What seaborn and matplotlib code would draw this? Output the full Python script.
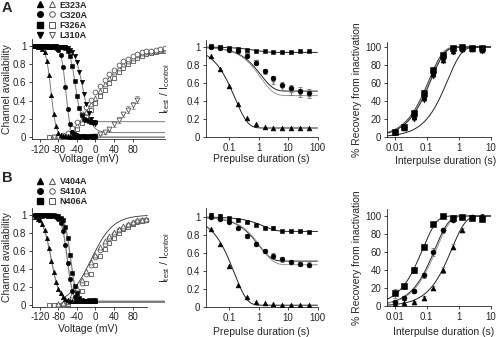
import numpy as np
import pandas as pd
import matplotlib
matplotlib.use("Agg")
import matplotlib.pyplot as plt
import seaborn as sns
from matplotlib.lines import Line2D
from matplotlib.legend_handler import HandlerTuple
from matplotlib.ticker import NullFormatter

# ---------------- data ----------------
volt_inact = [-130, -125, -120, -115, -110, -105, -100, -95, -90, -85, -80, -75, -70,
              -65, -60, -55, -50, -45, -40, -35, -30, -25, -20, -15, -10, -5, 0]

# Panel A, steady-state inactivation (filled symbols)
A_inact_E323A = [1.0, 0.99, 0.99, 0.97, 0.93, 0.84, 0.68, 0.46, 0.25, 0.12, 0.05, 0.02, 0.01,
                 0.01, 0.01, 0.0, 0.01, 0.0, 0.01, 0.0, 0.01, 0.01, 0.0, 0.01, 0.01, 0.0, 0.01]
A_inact_C320A = [1.0, 1.0, 1.0, 0.99, 1.0, 0.99, 0.99, 0.99, 0.99, 0.98, 0.96, 0.9, 0.77,
                 0.55, 0.31, 0.14, 0.06, 0.03, 0.02, 0.01, 0.01, 0.01, 0.01, 0.01, 0.01, 0.01, 0.01]
A_inact_F326A = [1.0, 1.0, 0.99, 1.0, 0.99, 1.0, 0.99, 0.99, 1.0, 0.99, 0.99, 0.99, 0.99,
                 0.98, 0.95, 0.89, 0.78, 0.62, 0.45, 0.32, 0.24, 0.2, 0.19, 0.18, 0.17, 0.17, 0.17]
A_inact_L310A = [1.0, 1.0, 1.0, 0.99, 1.0, 1.0, 0.99, 1.0, 0.99, 1.0, 0.99, 0.99, 0.99,
                 0.99, 0.98, 0.96, 0.93, 0.89, 0.82, 0.72, 0.6, 0.47, 0.36, 0.27, 0.2, 0.16, 0.14]
# Boltzmann fit parameters (V1/2, slope k, plateau)
A_fit_vhalf = [-96, -64, -44, -27]
A_fit_k = [5.5, 5.0, 6.0, 9.0]
A_fit_plateau = [0.0, 0.0, 0.17, 0.05]

# Panel A, activation (open symbols)
volt_act_A = [-90, -80, -70, -60, -50, -40, -30, -20, -10, 0, 10, 20, 30, 40, 50, 60, 70,
              80, 90, 100, 110, 120, 130, 140, 150]
A_act_C320A = [0.0, 0.0, 0.02, 0.05, 0.1, 0.17, 0.25, 0.33, 0.41, 0.49, 0.56, 0.63, 0.69, 0.74,
               0.79, 0.83, 0.86, 0.89, 0.91, 0.93, 0.94, 0.95, 0.96, 0.97, 0.98]
A_act_E323A = [0.0, 0.0, 0.01, 0.03, 0.07, 0.13, 0.2, 0.28, 0.36, 0.43, 0.51, 0.58, 0.65, 0.71,
               0.76, 0.8, 0.84, 0.87, 0.9, 0.92, 0.93, 0.94, 0.95, 0.96, 0.97]
volt_act_A_F = [-100, -90, -80, -70, -60, -50, -40, -30, -20, -10, 0, 10, 20, 30, 40, 50, 60,
                70, 80, 90, 100, 110, 120, 130, 140, 150]
A_act_F326A = [0.0, 0.0, 0.0, 0.0, 0.02, 0.05, 0.09, 0.15, 0.22, 0.3, 0.37, 0.45, 0.52, 0.59,
               0.65, 0.71, 0.76, 0.8, 0.84, 0.87, 0.89, 0.91, 0.92, 0.93, 0.94, 0.95]
volt_act_A_L = [-90, -80, -70, -60, -50, -40, -30, -20, -10, 0, 10, 20, 30, 40, 50, 60, 70, 80, 90]
A_act_L310A = [0, 0, 0, 0, 0, 0, 0, 0, 0, 0.01, 0.03, 0.06, 0.09, 0.14, 0.19, 0.25, 0.3, 0.35, 0.41]
A_act_L310A_err = [0, 0, 0, 0, 0, 0, 0, 0, 0, 0.01, 0.01, 0.02, 0.02, 0.03, 0.03, 0.03, 0.04, 0.04, 0.04]

# Panel B, steady-state inactivation
B_inact_V404A = [0.98, 0.96, 0.94, 0.9, 0.83, 0.74, 0.63, 0.49, 0.37, 0.26, 0.18, 0.13, 0.09,
                 0.07, 0.06, 0.05, 0.05, 0.04, 0.05, 0.04, 0.05, 0.04, 0.05, 0.04, 0.05, 0.04, 0.05]
B_inact_S410A = [1.0, 1.0, 0.99, 1.0, 1.0, 0.99, 1.0, 0.99, 0.99, 0.98, 0.96, 0.91, 0.82,
                 0.67, 0.47, 0.29, 0.16, 0.09, 0.06, 0.05, 0.04, 0.04, 0.05, 0.04, 0.05, 0.04, 0.05]
B_inact_N406A = [1.0, 1.0, 1.0, 0.99, 1.0, 1.0, 0.99, 1.0, 1.0, 0.99, 0.99, 0.97, 0.94,
                 0.87, 0.74, 0.56, 0.36, 0.21, 0.13, 0.08, 0.06, 0.05, 0.05, 0.06, 0.05, 0.06, 0.06]
B_fit_vhalf = [-96, -61, -54]
B_fit_k = [9.0, 6.0, 6.0]
B_fit_plateau = [0.04, 0.03, 0.04]

volt_act_B = [-80, -70, -60, -50, -40, -30, -20, -10, 0, 10, 20, 30, 40, 50, 60, 70, 80, 90, 100, 110]
B_act_S410A = [0.0, 0.01, 0.03, 0.08, 0.16, 0.25, 0.34, 0.44, 0.53, 0.61, 0.68, 0.74, 0.79, 0.83,
               0.86, 0.89, 0.91, 0.93, 0.94, 0.95]
B_act_V404A = [0.01, 0.02, 0.05, 0.11, 0.19, 0.28, 0.38, 0.48, 0.56, 0.64, 0.71, 0.77, 0.81, 0.85,
               0.88, 0.9, 0.92, 0.94, 0.95, 0.96]
volt_act_B_N = [-100, -90, -80, -70, -60, -50, -40, -30, -20, -10, 0, 10, 20, 30, 40, 50, 60, 70,
                80, 90, 100, 110]
B_act_N406A = [0, 0, 0, 0, 0.01, 0.04, 0.09, 0.16, 0.25, 0.35, 0.45, 0.54, 0.62, 0.69, 0.75, 0.8,
               0.84, 0.87, 0.9, 0.92, 0.93, 0.94]
B_act_fit = [-10, 24]  # V1/2, k

# Middle panels: development of slow inactivation
prepulse_s = [0.025, 0.05, 0.1, 0.2, 0.4, 0.8, 1.6, 3.2, 6.4, 12.8, 25.6, 51.2]
A_pre_E323A = [0.90, 0.76, 0.57, 0.37, 0.21, 0.14, 0.11, 0.10, 0.10, 0.10, 0.10, 0.10]
A_pre_C320A = [1.00, 0.99, 0.97, 0.95, 0.90, 0.82, 0.73, 0.65, 0.58, 0.54, 0.51, 0.49]
A_pre_C320A_err = [0.01, 0.01, 0.01, 0.01, 0.02, 0.02, 0.02, 0.03, 0.03, 0.04, 0.04, 0.04]
A_pre_F326A = [1.01, 1.00, 0.99, 0.98, 0.97, 0.96, 0.95, 0.94, 0.94, 0.94, 0.95, 0.95]
A_pre_L310A = [1.00, 0.99, 0.98, 0.95, 0.91, 0.83, 0.72, 0.62, 0.55, 0.51, 0.48, 0.47]
A_pre_fit_plateau = [0.10, 0.51, 0.94, 0.46]
A_pre_fit_tau = [0.16, 1.2, 0.8, 1.2]

B_pre_N406A = [1.02, 1.01, 0.99, 0.97, 0.94, 0.91, 0.88, 0.88, 0.85, 0.85, 0.84, 0.83]
B_pre_N406A_err = [0.02, 0.02, 0.01, 0.01, 0.01, 0.01, 0.01, 0.02, 0.01, 0.01, 0.01, 0.01]
B_pre_S410A = [1.00, 0.98, 0.94, 0.88, 0.79, 0.70, 0.62, 0.57, 0.53, 0.50, 0.48, 0.47]
B_pre_S410A_err = [0.01, 0.01, 0.01, 0.01, 0.02, 0.02, 0.02, 0.03, 0.03, 0.02, 0.02, 0.03]
B_pre_V404A = [0.87, 0.70, 0.46, 0.25, 0.11, 0.06, 0.04, 0.03, 0.02, 0.02, 0.02, 0.02]
B_pre_fit_plateau = [0.02, 0.51, 0.84, 0.47]
B_pre_fit_tau = [0.15, 1.0, 1.5, 1.2]

# Right panels: recovery from inactivation
interpulse_s = [0.01, 0.02, 0.04, 0.08, 0.16, 0.32, 0.64, 1.28, 2.56, 5.12]
A_rec_F326A = [5, 11, 27, 49, 74, 91, 99, 100, 99, 99]
A_rec_F326A_err = [2, 2, 3, 3, 3, 2, 2, 2, 2, 2]
A_rec_C320A = [6, 11, 25, 46, 72, 89, 98, 100, 99, 98]
A_rec_E323A = [5, 10, 22, 43, 70, 86, 96, 98, 98, 97]
A_rec_L310A = [4, 11, 20, 41, 68, 84, 94, 97, 98, 96]
A_rec_fit_tau = [0.118, 0.125, 0.135, 0.45]

B_rec_N406A = [14, 22, 40, 66, 91, 100, 98, 99, 98, 97]
B_rec_N406A_err = [5, 3, 3, 2, 2, 1, 2, 2, 2, 2]
B_rec_S410A = [5, 9, 17, 34, 60, 84, 96, 99, 99, 99]
B_rec_S410A_err = [2, 2, 2, 3, 4, 3, 2, 1, 1, 1]
B_rec_V404A = [2, 3, 5, 9, 20, 40, 66, 85, 99, 100]
B_rec_V404A_err = [1, 1, 1, 2, 2, 3, 3, 2, 2, 2]
B_rec_fit_tau = [0.075, 0.18, 0.2, 0.6]

# ---------------- style ----------------
sns.set_style("ticks")
plt.rcParams['font.family'] = ['Liberation Sans', 'DejaVu Sans']
plt.rcParams['axes.unicode_minus'] = False
plt.rcParams['axes.linewidth'] = 0.6
plt.rcParams['mathtext.fontset'] = 'custom'
plt.rcParams['mathtext.rm'] = 'Liberation Sans'

W, H = 500, 337
fig = plt.figure(figsize=(W / 100, H / 100), dpi=100)


def add_ax(l, t, r, b):
    return fig.add_axes([l / W, 1 - b / H, (r - l) / W, (b - t) / H])


FS_TICK = 7
FS_LAB = 7.5
BLACK = 'black'
OPEN_EDGE = '#555555'
FIT = '#555555'
MS = 10


def style(ax):
    sns.despine(ax=ax)
    ax.tick_params(which='major', direction='out', length=2.5, width=0.6, labelsize=FS_TICK, pad=1.5)
    ax.tick_params(which='minor', direction='out', length=1.5, width=0.5)


def filled(ax, x, y, m):
    sns.scatterplot(x=x, y=y, ax=ax, marker=m, s=MS, color=BLACK, edgecolor=BLACK,
                    linewidth=0.4, zorder=4, legend=False)


def opened(ax, x, y, m):
    sns.scatterplot(x=x, y=y, ax=ax, marker=m, s=MS + 2, color='white', edgecolor=OPEN_EDGE,
                    linewidth=0.6, zorder=3, legend=False)


def errs(ax, x, y, e, c='#666666'):
    ax.errorbar(x, y, yerr=e, fmt='none', ecolor=c, elinewidth=0.6, capsize=1.2, capthick=0.6, zorder=2.5)


def fitline(ax, x, y, c=FIT, lw=0.7):
    sns.lineplot(x=x, y=y, ax=ax, color=c, linewidth=lw, legend=False, sort=False, zorder=2)


def boltz_dec(v, vh, k, p):
    return p + (1 - p) / (1 + np.exp((v - vh) / k))


def voltage_axis(ax, right_bound):
    ax.set_xlim(-137, 150)
    ax.set_ylim(-0.02, 1.08)
    ax.set_xticks([-120, -80, -40, 0, 40, 80])
    ax.set_yticks([0, 0.2, 0.4, 0.6, 0.8, 1])
    ax.set_yticklabels(['0', '0.2', '0.4', '0.6', '0.8', '1'])
    style(ax)
    ax.spines['bottom'].set_bounds(-137, right_bound)
    ax.set_ylabel('Channel availability', fontsize=FS_LAB)
    ax.set_xlabel('Voltage (mV)', fontsize=FS_LAB)


def log_axis(ax, xlim, ticks, labels):
    ax.set_xscale('log')
    ax.set_xlim(*xlim)
    ax.set_xticks(ticks)
    ax.set_xticklabels(labels)
    ax.xaxis.set_minor_formatter(NullFormatter())
    style(ax)


vfit = np.linspace(-137, 150, 400)

# ---------------- Panel A left ----------------
axA1 = add_ax(32, 38.7, 165, 139)
for vh, k, p in zip(A_fit_vhalf, A_fit_k, A_fit_plateau):
    fitline(axA1, vfit, boltz_dec(vfit, vh, k, p), c='#7a7a7a')
errs(axA1, volt_act_A_L, A_act_L310A, A_act_L310A_err, c='#888888')
opened(axA1, volt_act_A_F, A_act_F326A, 's')
opened(axA1, volt_act_A, A_act_E323A, '^')
opened(axA1, volt_act_A, A_act_C320A, 'o')
opened(axA1, volt_act_A_L, A_act_L310A, 'v')
filled(axA1, volt_inact, A_inact_E323A, '^')
filled(axA1, volt_inact, A_inact_C320A, 'o')
filled(axA1, volt_inact, A_inact_F326A, 's')
filled(axA1, volt_inact, A_inact_L310A, 'v')
voltage_axis(axA1, 150)
axA1.yaxis.set_label_coords(-0.154, 0.5)
axA1.xaxis.set_label_coords(0.43, -0.145)

# ---------------- Panel B left ----------------
axB1 = add_ax(32, 207.8, 165, 306.8)
for vh, k, p in zip(B_fit_vhalf, B_fit_k, B_fit_plateau):
    fitline(axB1, vfit, boltz_dec(vfit, vh, k, p), c='#7a7a7a', lw=0.9)
vact = np.linspace(-70, 112, 200)
fitline(axB1, vact, 1 - boltz_dec(vact, B_act_fit[0], B_act_fit[1], 0.0), c='#333333', lw=0.6)
opened(axB1, volt_act_B_N, B_act_N406A, 's')
opened(axB1, volt_act_B, B_act_S410A, 'o')
opened(axB1, volt_act_B, B_act_V404A, '^')
filled(axB1, volt_inact, B_inact_V404A, '^')
filled(axB1, volt_inact, B_inact_S410A, 'o')
filled(axB1, volt_inact, B_inact_N406A, 's')
voltage_axis(axB1, 112)
axB1.yaxis.set_label_coords(-0.154, 0.5)
axB1.xaxis.set_label_coords(0.42, -0.175)

# ---------------- middle panels ----------------
tfit = np.logspace(np.log10(0.0166), 2, 300)


def prepulse_panel(ax, series, errlist, plateaus, taus, colors):
    for p, tau, c in zip(plateaus, taus, colors):
        fitline(ax, tfit, p + (1 - p) * np.exp(-tfit / tau), c=c, lw=0.7)
    for y, e in errlist:
        errs(ax, prepulse_s, y, e, c='#777777')
    for y, m, c in series:
        sns.scatterplot(x=prepulse_s, y=y, ax=ax, marker=m, s=MS + 2, color=c, edgecolor=c,
                        linewidth=0.4, zorder=4, legend=False)
    log_axis(ax, (0.0166, 100), [0.1, 1, 10, 100], ['0.1', '1', '10', '100'])
    ax.set_yticks([0, 0.2, 0.4, 0.6, 0.8, 1])
    ax.set_yticklabels(['0', '0.2', '0.4', '0.6', '0.8', '1'])
    ax.set_ylabel(r'$\mathregular{I_{test}\ /\ I_{control}}$', fontsize=FS_LAB)
    ax.set_xlabel('Prepulse duration (s)', fontsize=FS_LAB)


axA2 = add_ax(206, 39.8, 317.5, 137)
axA2.set_ylim(0, 1.08)
prepulse_panel(axA2,
               [(A_pre_L310A, 'v', '#777777'), (A_pre_E323A, '^', BLACK),
                (A_pre_C320A, 'o', BLACK), (A_pre_F326A, 's', BLACK)],
               [(A_pre_C320A, A_pre_C320A_err), (A_pre_L310A, A_pre_C320A_err)],
               A_pre_fit_plateau, A_pre_fit_tau, ['#222222', '#222222', '#222222', '#999999'])
axA2.set_ylim(0, 1.08)
axA2.yaxis.set_label_coords(-0.305, 0.5)
axA2.xaxis.set_label_coords(0.5, -0.17)

axB2 = add_ax(206, 208, 317.5, 307)
prepulse_panel(axB2,
               [(B_pre_V404A, '^', BLACK), (B_pre_S410A, 'o', BLACK), (B_pre_N406A, 's', BLACK)],
               [(B_pre_N406A, B_pre_N406A_err), (B_pre_S410A, B_pre_S410A_err)],
               B_pre_fit_plateau, B_pre_fit_tau, ['#222222', '#222222', '#222222', '#999999'])
axB2.set_ylim(0, 1.1)
axB2.yaxis.set_label_coords(-0.305, 0.5)
axB2.xaxis.set_label_coords(0.5, -0.207)

# ---------------- right panels ----------------
rfit = np.logspace(np.log10(0.0058), 1, 300)


def recovery_panel(ax, series, errlist, taus, colors):
    for tau, c in zip(taus, colors):
        fitline(ax, rfit, 100 * (1 - np.exp(-rfit / tau)), c=c, lw=0.7)
    for y, e in errlist:
        errs(ax, interpulse_s, y, e, c='#777777')
    for y, m in series:
        sns.scatterplot(x=interpulse_s, y=y, ax=ax, marker=m, s=MS + 3, color=BLACK,
                        edgecolor=BLACK, linewidth=0.4, zorder=4, legend=False)
    log_axis(ax, (0.0058, 10), [0.01, 0.1, 1, 10], ['0.01', '0.1', '1', '10'])
    ax.set_yticks([0, 20, 40, 60, 80, 100])
    ax.set_ylabel('% Recovery from inactivation', fontsize=FS_LAB)
    ax.set_xlabel('Interpulse duration (s)', fontsize=FS_LAB)


axA3 = add_ax(387, 41.6, 491, 137)
recovery_panel(axA3,
               [(A_rec_L310A, 'v'), (A_rec_E323A, '^'), (A_rec_C320A, 'o'), (A_rec_F326A, 's')],
               [(A_rec_F326A, A_rec_F326A_err)],
               A_rec_fit_tau, ['#222222', '#999999', '#222222', '#222222'])
axA3.set_ylim(0, 106)
axA3.yaxis.set_label_coords(-0.236, 0.5)
axA3.xaxis.set_label_coords(0.56, -0.194)

axB3 = add_ax(387, 208.8, 491, 306)
recovery_panel(axB3,
               [(B_rec_V404A, '^'), (B_rec_S410A, 'o'), (B_rec_N406A, 's')],
               [(B_rec_N406A, B_rec_N406A_err), (B_rec_S410A, B_rec_S410A_err),
                (B_rec_V404A, B_rec_V404A_err)],
               B_rec_fit_tau, ['#222222', '#222222', '#999999', '#222222'])
axB3.set_ylim(0, 108)
axB3.yaxis.set_label_coords(-0.236, 0.5)
axB3.xaxis.set_label_coords(0.54, -0.22)

# ---------------- legends & panel letters ----------------


def pair(m):
    return (Line2D([], [], marker=m, ls='none', ms=4, color=BLACK),
            Line2D([], [], marker=m, ls='none', ms=4, mfc='white', mec=OPEN_EDGE, mew=0.7))


legA_labels = ['E323A', 'C320A', 'F326A', 'L310A']
legA_markers = ['^', 'o', 's', 'v']
legB_labels = ['V404A', 'S410A', 'N406A']
legB_markers = ['^', 'o', 's']

common = dict(handler_map={tuple: HandlerTuple(ndivide=None, pad=0.6)}, loc='upper left',
              frameon=False, prop={'weight': 'bold', 'size': 6.5}, handlelength=2.0,
              handletextpad=0.5, labelspacing=0.12, borderpad=0.0, borderaxespad=0.0)
fig.legend([pair(m) for m in legA_markers], legA_labels, bbox_to_anchor=(37 / W, 1 - 0.5 / H), **common)
fig.legend([pair(m) for m in legB_markers], legB_labels, bbox_to_anchor=(37 / W, 1 - 177 / H), **common)

fig.text(2 / W, 1 - 1 / H, 'A', fontsize=10.5, fontweight='bold', va='top', ha='left')
fig.text(2 / W, 1 - 171 / H, 'B', fontsize=10.5, fontweight='bold', va='top', ha='left')

fig.savefig('out.png', dpi=100)
